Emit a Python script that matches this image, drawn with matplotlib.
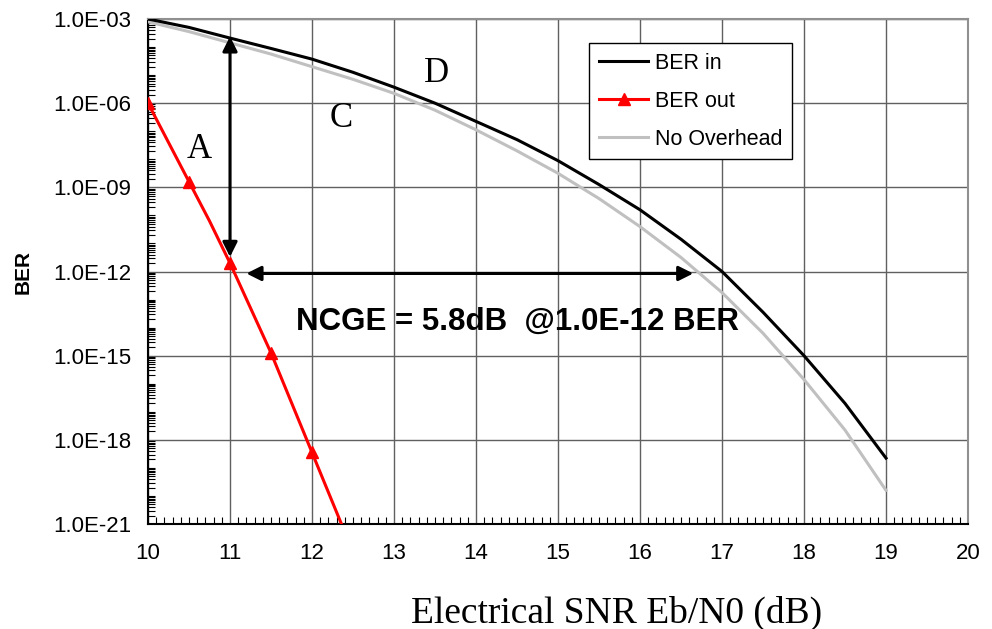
import numpy as np
import matplotlib
matplotlib.use("Agg")
import matplotlib.pyplot as plt
from matplotlib.ticker import FixedLocator, NullFormatter

# ---------------------------------------------------------
# Data (log10 of BER)
# ---------------------------------------------------------
snr = [10, 10.5, 11, 11.5, 12, 12.5, 13, 13.5, 14, 14.5, 15,
       15.5, 16, 16.5, 17, 17.5, 18, 18.5, 19]
ber_in_log = [-3.0, -3.3, -3.68, -4.05, -4.43, -4.9, -5.43, -6.0, -6.65, -7.3, -8.05,
              -8.9, -9.8, -10.85, -12.0, -13.45, -15.0, -16.7, -18.65]
no_overhead_log = [-3.1, -3.45, -3.85, -4.25, -4.7, -5.15, -5.65, -6.25, -6.95, -7.7, -8.5,
                   -9.4, -10.4, -11.5, -12.75, -14.2, -15.85, -17.65, -19.8]

snr_out = [10, 10.5, 10.75, 11, 11.5, 12, 12.5]
ber_out_log = [-6.0, -8.8, -10.2, -11.7, -14.9, -18.45, -22.0]
out_markers = [0, 1, 3, 4, 5]

y_ticks_exp = [-21, -18, -15, -12, -9, -6, -3]
x_ticks = list(range(10, 21))

ncge_text = "NCGE = 5.8dB  @1.0E-12 BER"
arrow_v = (11.0, -3.62, -11.48)      # x, top, bottom
arrow_h = (-12.07, 11.2, 16.65)      # y, left, right

sans = "Liberation Sans"
serif = "Liberation Serif"

# ---------------------------------------------------------
# Plot
# ---------------------------------------------------------
fig = plt.figure(figsize=(9.92, 6.29), dpi=100)
ax = fig.add_axes([0.1492, 0.1669, 0.8266, 0.8029])

ax.plot(snr, 10.0 ** np.array(ber_in_log), color="black", lw=2.2,
        label="BER in", zorder=4)
ax.plot(snr_out, 10.0 ** np.array(ber_out_log), color="red", lw=2.2,
        marker="^", markersize=8, markevery=out_markers,
        label="BER out", zorder=5)
ax.plot(snr, 10.0 ** np.array(no_overhead_log), color="#c0c0c0", lw=2.2,
        label="No Overhead", zorder=3)

ax.set_yscale("log")
ax.set_xlim(10, 20)
ax.set_ylim(1e-21, 1e-3)

ax.xaxis.set_major_locator(FixedLocator(x_ticks))
ax.xaxis.set_minor_locator(FixedLocator(np.arange(10, 20.01, 0.1)))
ax.set_xticklabels([str(v) for v in x_ticks], fontsize=16, family=sans)

ax.yaxis.set_major_locator(FixedLocator([10.0 ** e for e in y_ticks_exp]))
minor_y = []
for d in range(-21, -3):
    for m in range(1, 10):
        minor_y.append(m * 10.0 ** d)
ax.yaxis.set_minor_locator(FixedLocator(minor_y))
ax.yaxis.set_minor_formatter(NullFormatter())
ax.set_yticklabels(["1.0E%03d" % e for e in y_ticks_exp], fontsize=16, family=sans)

ax.tick_params(axis="y", which="major", direction="in", length=0, pad=12)
ax.tick_params(axis="x", which="major", direction="in", length=0, pad=14)
ax.tick_params(axis="both", which="minor", direction="in", length=5, width=0.8)
ax.tick_params(top=False, right=False, which="both")

ax.grid(True, which="major", color="#606060", lw=1.0)
for s in ["top", "right"]:
    ax.spines[s].set_color("#909090")
    ax.spines[s].set_linewidth(1.5)
for s in ["left", "bottom"]:
    ax.spines[s].set_color("black")
    ax.spines[s].set_linewidth(1.5)

ax.set_xlabel("Electrical SNR Eb/N0 (dB)", fontsize=27, family=serif)
ax.xaxis.set_label_coords(0.572, -0.142)
ax.set_ylabel("BER", fontsize=15, family=sans, fontweight="bold", labelpad=15)

# arrows
ax.annotate("", xy=(arrow_v[0], 10 ** arrow_v[1]), xytext=(arrow_v[0], 10 ** arrow_v[2]),
            arrowprops=dict(arrowstyle="<|-|>", color="black", lw=2.2,
                            mutation_scale=22, shrinkA=0, shrinkB=0), zorder=6)
ax.annotate("", xy=(arrow_h[1], 10 ** arrow_h[0]), xytext=(arrow_h[2], 10 ** arrow_h[0]),
            arrowprops=dict(arrowstyle="<|-|>", color="black", lw=2.2,
                            mutation_scale=22, shrinkA=0, shrinkB=0), zorder=6)

ax.text(14.5, 10 ** -13.8, ncge_text, fontsize=22.5, family=sans, fontweight="bold",
        ha="center", va="center", zorder=7)
ax.text(10.62, 10 ** -7.65, "A", fontsize=25, family=serif, ha="center", va="center")
ax.text(12.35, 10 ** -6.55, "C", fontsize=25, family=serif, ha="center", va="center")
ax.text(13.52, 10 ** -4.95, "D", fontsize=25, family=serif, ha="center", va="center")

leg = ax.legend(loc="upper left", bbox_to_anchor=(0.538, 0.952), frameon=True,
                fancybox=False, edgecolor="black", framealpha=1,
                prop={"family": sans, "size": 15.5}, handlelength=2.3,
                handletextpad=0.3, borderpad=0.45, labelspacing=0.78,
                borderaxespad=0)
leg.get_frame().set_linewidth(1.0)
leg.set_zorder(8)

fig.savefig("out.png", dpi=100)
